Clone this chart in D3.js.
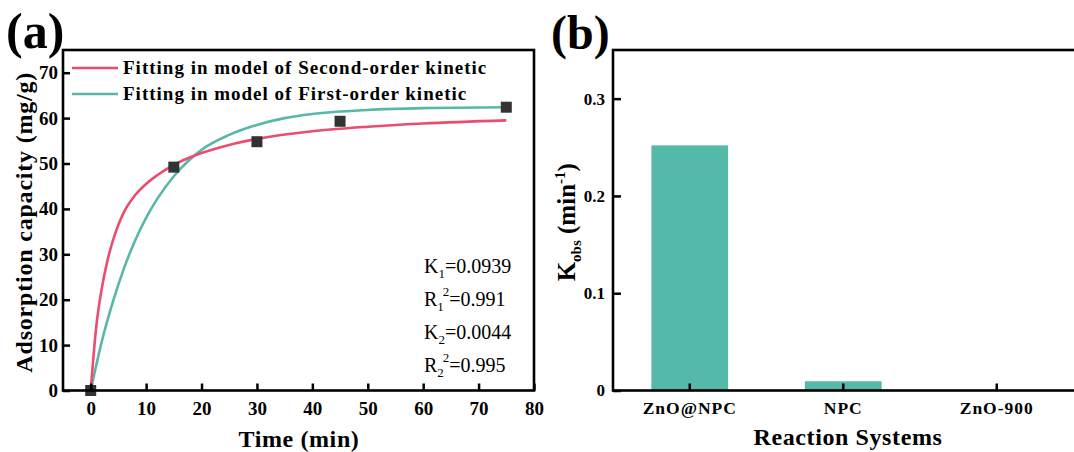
<!DOCTYPE html>
<html><head><meta charset="utf-8">
<script src="https://cdn.jsdelivr.net/npm/d3@7"></script>
<style>
body{margin:0;background:#fff;}
svg{display:block;font-family:"Liberation Serif","Times New Roman",serif;}
</style></head>
<body><svg id="c" width="1074" height="452"></svg>
<script>
// ---- Data ----
const expTime = [0, 15, 30, 45, 75];
const expQ = [0, 49.2, 54.8, 59.3, 62.4];
const secondT = [0, 0.5, 1, 2, 3, 4, 5, 6, 8, 10, 12, 15, 20, 25, 30, 40, 50, 60, 75];
const secondQ = [0, 7.5, 14, 22.5, 28.5, 33, 36.5, 39.3, 43, 45.5, 47.4, 49.7, 52.3, 54.1, 55.4, 57.1, 58.1, 58.8, 59.5];
const firstT = [0, 2, 4, 6, 8, 10, 12, 15, 20, 25, 30, 35, 40, 50, 60, 75];
const firstQ = [0, 10.8, 19.5, 26.9, 33, 38, 42.2, 47.2, 53, 56.3, 58.5, 60, 60.9, 61.8, 62.2, 62.4];
const xTicksA = [0, 10, 20, 30, 40, 50, 60, 70, 80];
const yTicksA = [0, 10, 20, 30, 40, 50, 60, 70];
const legendLabels = ["Fitting in model of Second-order kinetic", "Fitting in model of First-order kinetic"];
const categories = ["ZnO@NPC", "NPC", "ZnO-900"];
const kobs = [0.252, 0.0095, 0];
const yTicksB = [0, 0.1, 0.2, 0.3];

const RED = "#EA4D6E", TEAL = "#58B8A7", BAR = "#55B9AA";
const FONT = "Liberation Serif, Times New Roman, serif";
const svg = d3.select("#c");

// ---- Panel (a) ----
const A = {l: 63, r: 534, t: 50, b: 390.5};
const x = d3.scaleLinear().domain([-5, 80]).range([A.l, A.r]);
const y = d3.scaleLinear().domain([0, 75]).range([A.b, A.t]);
const ga = svg.append("g");

const line = d3.line().x(d => x(d[0])).y(d => y(d[1])).curve(d3.curveMonotoneX);
ga.append("path").datum(firstT.map((t, i) => [t, firstQ[i]]))
  .attr("d", line).attr("fill", "none").attr("stroke", TEAL).attr("stroke-width", 2.6);
ga.append("path").datum(secondT.map((t, i) => [t, secondQ[i]]))
  .attr("d", line).attr("fill", "none").attr("stroke", RED).attr("stroke-width", 2.6);

ga.selectAll("rect.pt").data(expTime.map((t, i) => [t, expQ[i]])).join("rect")
  .attr("class", "pt").attr("x", d => x(d[0]) - 5.5).attr("y", d => y(d[1]) - 5.5)
  .attr("width", 11).attr("height", 11).attr("fill", "#333");

const xa = d3.axisBottom(x).tickValues(xTicksA).tickSizeInner(-7).tickSizeOuter(0).tickPadding(11).tickFormat(d3.format("d"));
const ya = d3.axisLeft(y).tickValues(yTicksA).tickSizeInner(-7).tickSizeOuter(0).tickPadding(5).tickFormat(d3.format("d"));
const gx = ga.append("g").attr("transform", `translate(0,${A.b})`).call(xa);
const gy = ga.append("g").attr("transform", `translate(${A.l},0)`).call(ya);
[gx, gy].forEach(g => {
  g.attr("font-family", FONT);
  g.select(".domain").remove();
  g.selectAll(".tick line").attr("stroke", "#000").attr("stroke-width", 2.5);
  g.selectAll(".tick text").attr("font-size", 19).attr("font-weight", "bold").attr("fill", "#000");
});
ga.append("rect").attr("x", A.l).attr("y", A.t).attr("width", A.r - A.l).attr("height", A.b - A.t)
  .attr("fill", "none").attr("stroke", "#000").attr("stroke-width", 2.6);

// legend
legendLabels.forEach((lab, i) => {
  const yy = 68 + i * 26;
  ga.append("line").attr("x1", 72).attr("x2", 118).attr("y1", yy).attr("y2", yy)
    .attr("stroke", i === 0 ? RED : TEAL).attr("stroke-width", 2.6);
  ga.append("text").attr("x", 123).attr("y", yy + 6).text(lab)
    .attr("font-size", 19).attr("font-weight", "bold").attr("letter-spacing", 1);
});

// annotations
const ann = [["K", "1", "", "=0.0939"], ["R", "1", "2", "=0.991"], ["K", "2", "", "=0.0044"], ["R", "2", "2", "=0.995"]];
ann.forEach((a, i) => {
  const t = ga.append("text").attr("x", 424).attr("y", 273 + i * 33).attr("font-size", 20);
  t.append("tspan").text(a[0]);
  t.append("tspan").text(a[1]).attr("font-size", 13).attr("dy", 5);
  if (a[2]) {
    t.append("tspan").text(a[2]).attr("font-size", 13).attr("dy", -15).attr("dx", -1);
    t.append("tspan").text(a[3]).attr("dy", 10);
  } else {
    t.append("tspan").text(a[3]).attr("dy", -5);
  }
});

ga.append("text").attr("transform", `translate(32,${(A.t + A.b) / 2 + 2}) rotate(-90)`)
  .attr("text-anchor", "middle").attr("font-size", 24).attr("font-weight", "bold").attr("letter-spacing", 0.8)
  .text("Adsorption capacity (mg/g)");
ga.append("text").attr("x", 299).attr("y", 447).attr("text-anchor", "middle")
  .attr("font-size", 24).attr("font-weight", "bold").attr("letter-spacing", 0.6).text("Time (min)");
ga.append("text").attr("x", 6).attr("y", 48).attr("font-size", 50).attr("font-weight", "bold").text("(a)");

// ---- Panel (b) ----
const B = {l: 613, r: 1073.5, t: 50, b: 390.5};
const xb = d3.scaleBand().domain(categories).range([B.l, B.r]).paddingInner(0.5).paddingOuter(0.25);
const yb = d3.scaleLinear().domain([0, 0.35]).range([B.b, B.t]);
const gb = svg.append("g");
gb.selectAll("rect.bar").data(categories.map((c, i) => [c, kobs[i]])).join("rect")
  .attr("class", "bar").attr("x", d => xb(d[0])).attr("width", xb.bandwidth())
  .attr("y", d => yb(d[1])).attr("height", d => B.b - yb(d[1])).attr("fill", BAR);

const xba = d3.axisBottom(xb).tickSizeInner(-7).tickSizeOuter(0).tickPadding(11);
const yba = d3.axisLeft(yb).tickValues(yTicksB).tickSizeInner(-8).tickSizeOuter(0).tickPadding(8)
  .tickFormat(d => d === 0 ? "0" : d3.format(".1f")(d));
const gbx = gb.append("g").attr("transform", `translate(0,${B.b})`).call(xba);
const gby = gb.append("g").attr("transform", `translate(${B.l},0)`).call(yba);
gbx.selectAll(".tick text").attr("font-size", 17.5).attr("letter-spacing", 1);
gby.selectAll(".tick text").attr("font-size", 17);
[gbx, gby].forEach(g => {
  g.attr("font-family", FONT);
  g.select(".domain").remove();
  g.selectAll(".tick line").attr("stroke", "#000").attr("stroke-width", 2.5);
  g.selectAll(".tick text").attr("font-weight", "bold").attr("fill", "#000");
});
gb.append("rect").attr("x", B.l).attr("y", B.t).attr("width", 480).attr("height", B.b - B.t)
  .attr("fill", "none").attr("stroke", "#000").attr("stroke-width", 2.6);

const kl = gb.append("text").attr("transform", `translate(575,${(B.t + B.b) / 2 + 2}) rotate(-90)`)
  .attr("text-anchor", "middle").attr("font-size", 25).attr("font-weight", "bold");
kl.append("tspan").text("K");
kl.append("tspan").text("obs").attr("font-size", 15).attr("dy", 6);
kl.append("tspan").text(" (min").attr("dy", -6);
kl.append("tspan").text("-1").attr("font-size", 15).attr("dy", -10);
kl.append("tspan").text(")").attr("dy", 10);
gb.append("text").attr("x", 848).attr("y", 445).attr("text-anchor", "middle")
  .attr("font-size", 24).attr("font-weight", "bold").attr("letter-spacing", 0.6).text("Reaction Systems");
gb.append("text").attr("x", 551).attr("y", 49).attr("font-size", 48).attr("font-weight", "bold").text("(b)");
</script></body></html>
